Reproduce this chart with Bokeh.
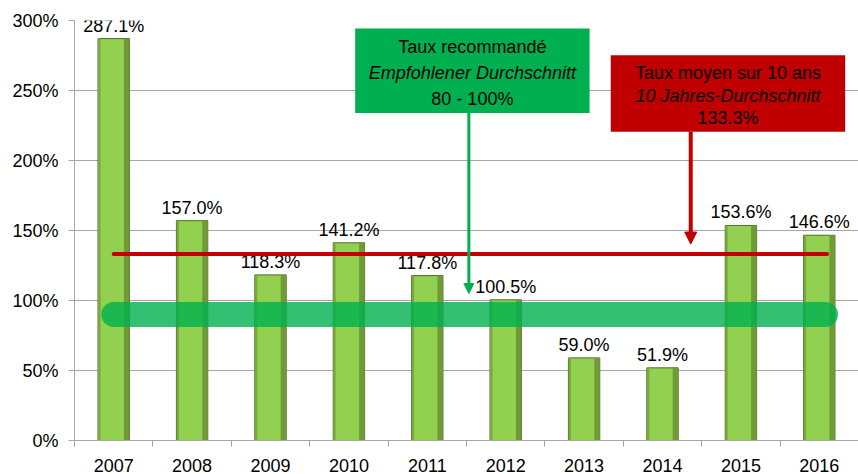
from bokeh.plotting import figure
from bokeh.models import (ColumnDataSource, FixedTicker, Range1d, Arrow, NormalHead,
                          BoxAnnotation, Label)
from bokeh.embed import file_html
from bokeh.resources import INLINE
from bokeh.core.properties import value

# ---------------- data ----------------
years = ["2007", "2008", "2009", "2010", "2011", "2012", "2013", "2014", "2015", "2016"]
rates = [287.1, 157.0, 118.3, 141.2, 117.8, 100.5, 59.0, 51.9, 153.6, 146.6]
avg_rate = 133.3
rec_low, rec_high = 80, 100
y_ticks = [0, 50, 100, 150, 200, 250, 300]
y_tick_labels = ["0%", "50%", "100%", "150%", "200%", "250%", "300%"]
green_box_lines = ["Taux recommandé", "Empfohlener Durchschnitt", "80 - 100%"]
red_box_lines = ["Taux moyen sur 10 ans", "10 Jahres-Durchschnitt", "133.3%"]

FONT = "Liberation Sans"
FS = "18px"

xs = list(range(len(years)))
src = ColumnDataSource(dict(
    x=xs,
    rate=rates,
    label=[f"{v:.1f}%" for v in rates],
    x_right=[x + 0.165 for x in xs],
    x_left=[x - 0.183 for x in xs],
))

p = figure(width=858, height=474, output_backend="svg", toolbar_location=None,
           x_range=Range1d(-0.5, 9.5), y_range=Range1d(0, 300),
           min_border_left=74, min_border_right=0, min_border_top=20, min_border_bottom=31)
p.outline_line_color = None
p.background_fill_color = "white"
p.xgrid.grid_line_color = None
p.ygrid.grid_line_color = "#a6a6a6"
p.ygrid.grid_line_width = 1

# y axis
p.yaxis.ticker = FixedTicker(ticks=y_ticks)
p.yaxis.major_label_overrides = {t: l for t, l in zip(y_ticks, y_tick_labels)}
p.yaxis.major_tick_in = 0
p.yaxis.major_tick_out = 6
p.yaxis.minor_tick_line_color = None
p.yaxis.axis_line_color = "#a6a6a6"
p.yaxis.major_tick_line_color = "#a6a6a6"
p.yaxis.major_label_text_font = FONT
p.yaxis.major_label_text_font_size = FS
p.yaxis.major_label_text_color = "black"
p.yaxis.major_label_standoff = 10

# x axis
p.xaxis.ticker = FixedTicker(ticks=xs, minor_ticks=[i - 0.5 for i in range(len(years) + 1)])
p.xaxis.major_label_overrides = {i: y for i, y in enumerate(years)}
p.xaxis.major_tick_line_color = None
p.xaxis.major_tick_in = 0
p.xaxis.major_tick_out = 0
p.xaxis.minor_tick_in = 0
p.xaxis.minor_tick_out = 6
p.xaxis.minor_tick_line_color = "#a6a6a6"
p.xaxis.axis_line_color = "#a6a6a6"
p.xaxis.major_label_text_font = FONT
p.xaxis.major_label_text_font_size = FS
p.xaxis.major_label_text_color = "black"
p.xaxis.major_label_standoff = 12

# bars (simulated bevel)
p.vbar(x="x", top="rate", bottom=0, width=0.4, source=src,
       fill_color="#92d050", line_color="#4e6b25", line_width=1)
p.vbar(x="x_right", top="rate", bottom=0, width=0.07, source=src,
       fill_color="#6f9a37", line_color=None)
p.vbar(x="x_left", top="rate", bottom=0, width=0.03, source=src,
       fill_color="#7ca93e", line_color=None)

# bar labels
p.text(x="x", y="rate", text="label", source=src, text_align="center",
       text_baseline="bottom", y_offset=-3, text_font=value(FONT),
       text_font_size=FS, text_color="black")

# average line
p.line(x=[xs[0], xs[-1] + 0.1], y=[avg_rate, avg_rate], line_color="#c00000",
       line_width=4, line_cap="round")

# recommended band
mid = (rec_low + rec_high) / 2
p.line(x=[xs[0], xs[-1] + 0.08], y=[mid, mid], line_color="#00b050", line_alpha=0.8,
       line_width=25, line_cap="round")

# green annotation box
gb_left, gb_right, gb_top, gb_bottom = 3.08, 6.07, 294.3, 234.0
p.add_layout(BoxAnnotation(left=gb_left, right=gb_right, top=gb_top, bottom=gb_bottom,
                           fill_color="#00b050", fill_alpha=1, line_color=None))
for txt, yy, style in zip(green_box_lines, [280.9, 262.4, 244.0], ["normal", "italic", "normal"]):
    p.add_layout(Label(x=(gb_left + gb_right) / 2, y=yy, text=txt, text_align="center",
                       text_baseline="middle", text_font=FONT, text_font_size=FS,
                       text_font_style=style, text_color="black"))
p.add_layout(Arrow(x_start=4.53, y_start=gb_bottom, x_end=4.53, y_end=rec_high + 5,
                   line_color="#00b050", line_width=3,
                   end=NormalHead(size=10, fill_color="#00b050", line_color="#00b050")))

# red annotation box
rb_left, rb_right, rb_top, rb_bottom = 6.34, 9.33, 275.2, 220.6
p.add_layout(BoxAnnotation(left=rb_left, right=rb_right, top=rb_top, bottom=rb_bottom,
                           fill_color="#c00000", fill_alpha=1, line_color=None))
for txt, yy, style in zip(red_box_lines, [262.4, 246.1, 230.5], ["normal", "italic", "normal"]):
    p.add_layout(Label(x=(rb_left + rb_right) / 2, y=yy, text=txt, text_align="center",
                       text_baseline="middle", text_font=FONT, text_font_size=FS,
                       text_font_style=style, text_color="black"))
p.add_layout(Arrow(x_start=7.36, y_start=rb_bottom, x_end=7.36, y_end=avg_rate + 7,
                   line_color="#c00000", line_width=4,
                   end=NormalHead(size=12, fill_color="#c00000", line_color="#c00000")))

open("out.html", "w").write(file_html(p, INLINE))
